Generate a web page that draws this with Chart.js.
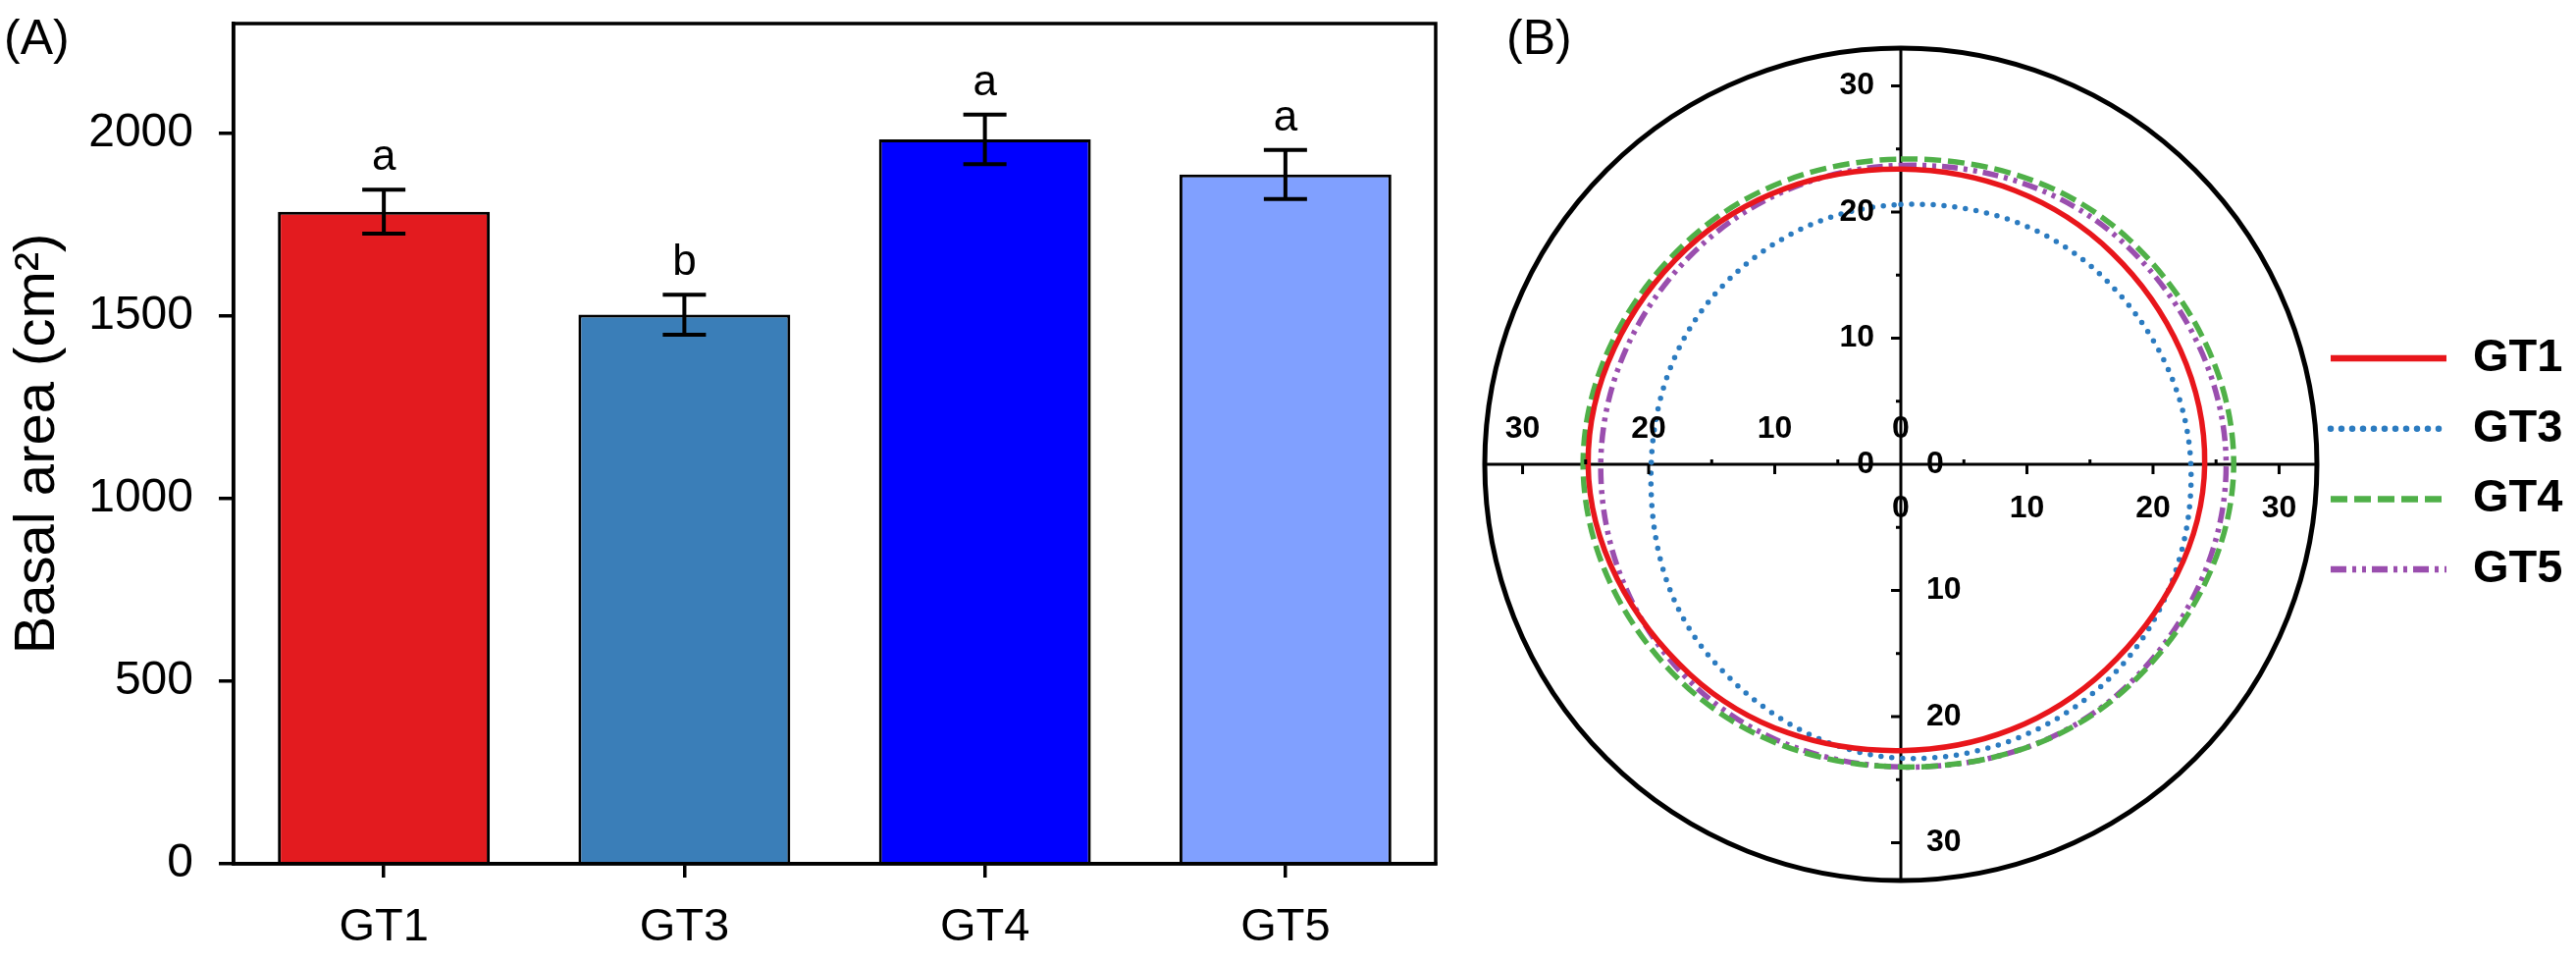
<!DOCTYPE html>
<html>
<head>
<meta charset="utf-8">
<script src="https://cdn.jsdelivr.net/npm/chart.js@4.4.1/dist/chart.umd.min.js"></script>
<style>
  html, body { margin: 0; padding: 0; background: #fff; }
  #wrap { position: relative; width: 2625px; height: 980px; }
  canvas { position: absolute; top: 0; }
</style>
</head>
<body>
<div id="wrap">
  <canvas id="basalChart" width="1500" height="980" style="left:0"></canvas>
  <canvas id="crownChart" width="1125" height="980" style="left:1500px"></canvas>
</div>
<script>
// ── Data ─────────────────────────────────────────────────────────────────────

const groups      = ['GT1', 'GT3', 'GT4', 'GT5'];
const basalMean   = [1785, 1503, 1983, 1887];
const basalSE     = [60, 55, 68, 67];
const sigLetters  = ['a', 'b', 'a', 'a'];
const basalTicks  = [0, 500, 1000, 1500, 2000];

// polar panel: radius read at 8 compass directions, clockwise from north
const directions  = ['N', 'NE', 'E', 'SE', 'S', 'SW', 'W', 'NW'];
const radiusGT1   = [23.4, 23.7, 24.1, 23.0, 22.7, 23.6, 24.8, 24.1];
const radiusGT3   = [20.6, 21.8, 23.0, 23.7, 23.3, 21.5, 19.8, 20.0];
const radiusGT4   = [24.2, 25.4, 26.4, 25.2, 24.0, 24.5, 25.2, 24.5];
const radiusGT5   = [23.7, 24.9, 25.8, 25.1, 24.0, 24.0, 23.8, 23.5];
const polarTicks  = [0, 10, 20, 30];
const polarMinor  = [5, 15, 25];
const polarMax    = 33;

// ── Styles ───────────────────────────────────────────────────────────────────

const FONT = "'Liberation Sans', Arial, sans-serif";
const barColors = ['#E31B1F', '#3A7EB8', '#0000FF', '#80A0FF'];

Chart.defaults.font.family = FONT;
Chart.defaults.color = '#000';

// ── Panel A: bars, error bars, letters, frame ───────────────────────────────

const basalMarks = {
    id: 'basalMarks',
    afterDatasetsDraw(chart) {
        const { ctx, chartArea: a, scales: { y } } = chart;
        const bars = chart.getDatasetMeta(0).data;
        ctx.save();
        ctx.strokeStyle = '#000';
        ctx.fillStyle = '#000';
        ctx.lineWidth = 4;
        ctx.font = '44px ' + FONT;
        ctx.textAlign = 'center';
        ctx.textBaseline = 'alphabetic';
        bars.forEach((bar, i) => {
            const top = y.getPixelForValue(basalMean[i] + basalSE[i]);
            const bot = y.getPixelForValue(basalMean[i] - basalSE[i]);
            ctx.beginPath();
            ctx.moveTo(bar.x, top); ctx.lineTo(bar.x, bot);
            ctx.moveTo(bar.x - 22, top); ctx.lineTo(bar.x + 22, top);
            ctx.moveTo(bar.x - 22, bot); ctx.lineTo(bar.x + 22, bot);
            ctx.stroke();
            ctx.fillText(sigLetters[i], bar.x, top - 20);
        });
        // full box round the plot
        ctx.lineWidth = 3.5;
        ctx.strokeRect(a.left, a.top, a.right - a.left, a.bottom - a.top);
        // panel tag
        ctx.font = '50px ' + FONT;
        ctx.textAlign = 'left';
        ctx.fillText('(A)', 4, 55);
        ctx.restore();
    }
};

new Chart(document.getElementById('basalChart'), {
    type: 'bar',
    data: {
        labels: groups,
        datasets: [{
            data: basalMean,
            backgroundColor: barColors,
            borderColor: '#000',
            borderWidth: 3,
            barPercentage: 0.705,
            categoryPercentage: 1
        }]
    },
    options: {
        responsive: false,
        animation: false,
        events: [],
        layout: { padding: { top: 24, right: 37, left: 0, bottom: 0 } },
        plugins: { legend: { display: false }, tooltip: { enabled: false } },
        scales: {
            x: {
                afterFit: s => { s.height = 100; s.paddingLeft = 0; s.paddingRight = 0; },
                border: { color: '#000', width: 3.5 },
                grid: { offset: false, drawOnChartArea: false, color: '#000', lineWidth: 3.5, tickLength: 14 },
                ticks: { font: { size: 47 }, color: '#000', padding: 23 }
            },
            y: {
                min: 0,
                max: 2300,
                afterBuildTicks: s => { s.ticks = basalTicks.map(v => ({ value: v })); },
                afterFit: s => { s.width = 238; s.paddingTop = 0; s.paddingBottom = 0; },
                border: { color: '#000', width: 3.5 },
                grid: { drawOnChartArea: false, color: '#000', lineWidth: 3.5, tickLength: 15 },
                ticks: { font: { size: 48 }, color: '#000', padding: 26, callback: v => String(v) },
                title: { display: true, text: 'Basal area (cm²)', font: { size: 58 }, color: '#000' }
            }
        }
    },
    plugins: [basalMarks]
});

// ── Panel B: polar crown outline ─────────────────────────────────────────────

const polarAxes = {
    id: 'polarAxes',
    afterDraw(chart) {
        const r = chart.scales.r;
        const ctx = chart.ctx;
        const cx = r.xCenter, cy = r.yCenter;
        const pos = (idx, v) => r.getPointPositionForValue(idx, v);
        ctx.save();
        ctx.strokeStyle = '#000';
        ctx.fillStyle = '#000';
        ctx.lineWidth = 3;
        ctx.beginPath();
        polarTicks.filter(v => v > 0).forEach(v => {
            [0, 4].forEach(i => { const p = pos(i, v); ctx.moveTo(p.x - 10, p.y); ctx.lineTo(p.x, p.y); });
            [2, 6].forEach(i => { const p = pos(i, v); ctx.moveTo(p.x, p.y); ctx.lineTo(p.x, p.y + 10); });
        });
        polarMinor.forEach(v => {
            [0, 4].forEach(i => { const p = pos(i, v); ctx.moveTo(p.x - 5, p.y); ctx.lineTo(p.x, p.y); });
            [2, 6].forEach(i => { const p = pos(i, v); ctx.moveTo(p.x, p.y - 5); ctx.lineTo(p.x, p.y); });
        });
        ctx.stroke();

        ctx.font = 'bold 32px ' + FONT;
        ctx.textBaseline = 'middle';
        polarTicks.forEach(v => {
            const t = String(v);
            ctx.textAlign = 'right';
            ctx.fillText(t, cx - 27, pos(0, v).y);
            ctx.textAlign = 'center';
            ctx.fillText(t, pos(6, v).x, cy - 36);
            ctx.fillText(t, pos(2, v).x, cy + 45);
            ctx.textAlign = 'left';
            ctx.fillText(t, cx + 26, pos(4, v).y);
        });

        // legend
        ctx.font = 'bold 47px ' + FONT;
        chart.data.datasets.forEach((ds, i) => {
            const y = 365 + i * 71.7;
            ctx.save();
            ctx.strokeStyle = ds.borderColor;
            ctx.lineWidth = ds.borderWidth + 1;
            ctx.lineCap = ds.borderCapStyle || 'butt';
            ctx.setLineDash(ds.borderDash || []);
            ctx.beginPath();
            ctx.moveTo(875, y); ctx.lineTo(993, y);
            ctx.stroke();
            ctx.restore();
            ctx.textAlign = 'left';
            ctx.fillText(ds.label, 1020, y);
        });

        ctx.font = '50px ' + FONT;
        ctx.textBaseline = 'alphabetic';
        ctx.fillText('(B)', 35, 55);
        ctx.restore();
    }
};

const crownSet = (label, data, color, dash, cap) => ({
    label, data,
    borderColor: color,
    borderWidth: 5.5,
    borderDash: dash,
    borderCapStyle: cap || 'butt',
    tension: 0.375,
    fill: false,
    pointRadius: 0
});

new Chart(document.getElementById('crownChart'), {
    type: 'radar',
    data: {
        labels: directions,
        datasets: [
            crownSet('GT1', radiusGT1, '#E8161B', []),
            crownSet('GT3', radiusGT3, '#2B7BC0', [0, 11], 'round'),
            crownSet('GT4', radiusGT4, '#4FB048', [17, 7]),
            crownSet('GT5', radiusGT5, '#9A4EAE', [16, 6, 4, 6, 4, 6])
        ]
    },
    options: {
        responsive: false,
        animation: false,
        events: [],
        layout: { padding: { left: 13, top: 49, right: 264, bottom: 83 } },
        plugins: { legend: { display: false }, tooltip: { enabled: false } },
        scales: {
            r: {
                min: 0,
                max: polarMax,
                afterBuildTicks: s => { s.ticks = [...polarTicks, polarMax].map(v => ({ value: v })); },
                ticks: { display: false },
                pointLabels: { display: false },
                grid: {
                    circular: true,
                    color: c => (c.tick && c.tick.value === polarMax) ? '#000' : 'rgba(0,0,0,0)',
                    lineWidth: 5
                },
                angleLines: {
                    color: c => c.index % 2 === 0 ? '#000' : 'rgba(0,0,0,0)',
                    lineWidth: c => c.index % 2 === 0 ? 3 : 0
                }
            }
        }
    },
    plugins: [polarAxes]
});
</script>
</body>
</html>
